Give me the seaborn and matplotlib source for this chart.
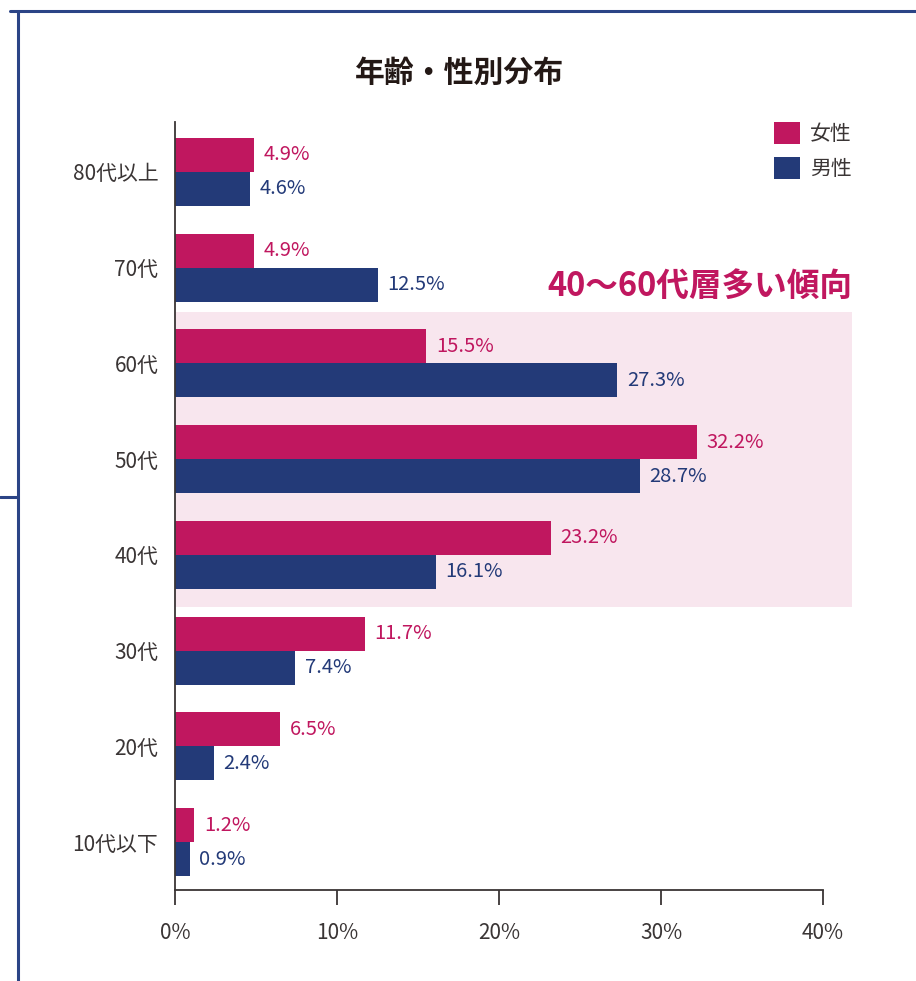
import numpy as np
import pandas as pd
import seaborn as sns
import matplotlib.pyplot as plt
from matplotlib.patches import Rectangle
from matplotlib.lines import Line2D

ages = ["80代以上", "70代", "60代", "50代", "40代", "30代", "20代", "10代以下"]
female = [4.9, 4.9, 15.5, 32.2, 23.2, 11.7, 6.5, 1.2]
male = [4.6, 12.5, 27.3, 28.7, 16.1, 7.4, 2.4, 0.9]
genders = ["女性", "男性"]
xticks = [0, 10, 20, 30, 40]

pink = "#C0175F"
navy = "#233A78"
frame = "#2B4486"
dark = "#3A3535"

d = pd.DataFrame({
    "age": ages * 2,
    "gender": [genders[0]] * len(ages) + [genders[1]] * len(ages),
    "pct": female + male,
})

sns.set_theme(style="white")
plt.rcParams['font.family'] = ['Noto Sans CJK JP', 'DejaVu Sans']

f = plt.figure(figsize=(9.16, 9.81), dpi=100)
ax = f.add_axes([175 / 916, 1 - 890 / 981, (823 - 175) / 916, (890 - 122) / 981])

# highlight band for 40-60
ax.add_patch(Rectangle((0, 1.463), 41.8, 3.08, facecolor="#F8E6EE",
                       edgecolor="none", clip_on=False, zorder=0))

sns.barplot(data=d, y="age", x="pct", hue="gender", order=ages,
            hue_order=genders, palette=[pink, navy], orient="h",
            width=0.71, saturation=1, linewidth=0, ax=ax, zorder=2)

for cont, col in zip(ax.containers, [pink, navy]):
    ax.bar_label(cont, fmt="%.1f%%", padding=7, color=col, fontsize=14.5)

ax.set_xlim(0, 40)
ax.set_ylim(7.5, -0.52)
ax.set_xticks(xticks)
ax.set_xticklabels([f"{t}%" for t in xticks], fontsize=15, color=dark)
ax.tick_params(axis="x", direction="out", length=11, width=1.3, color=dark,
               pad=12, bottom=True)
ax.tick_params(axis="y", length=0, pad=12, labelsize=15, labelcolor=dark)
ax.set_xlabel("")
ax.set_ylabel("")
for s in ["top", "right"]:
    ax.spines[s].set_visible(False)
for s in ["left", "bottom"]:
    ax.spines[s].set_color(dark)
    ax.spines[s].set_linewidth(1.3)
ax.set_facecolor("none")

leg = ax.legend(loc="upper right", bbox_to_anchor=(1.073, 1.024), frameon=False,
                fontsize=15, handlelength=1.25, handleheight=1.25,
                labelspacing=0.55, handletextpad=0.45)
for t in leg.get_texts():
    t.set_color(dark)

ax.text(41.8, 1.2, "40～60代層多い傾向", ha="right", va="center",
        fontsize=23.5, fontweight="bold", color=pink, clip_on=False)

f.text(460 / 916, 1 - 73 / 981, "年齢・性別分布", ha="center", va="center",
       fontsize=21.5, fontweight="bold", color="#231815")

# card frame
f.add_artist(Line2D([10 / 916, 1], [1 - 11 / 981, 1 - 11 / 981], color=frame, lw=2.2))
f.add_artist(Line2D([18 / 916, 18 / 916], [0, 1 - 11 / 981], color=frame, lw=2.2))
f.add_artist(Line2D([0, 18 / 916], [1 - 497 / 981, 1 - 497 / 981], color=frame, lw=2.2))

plt.savefig("out.png", dpi=100)
